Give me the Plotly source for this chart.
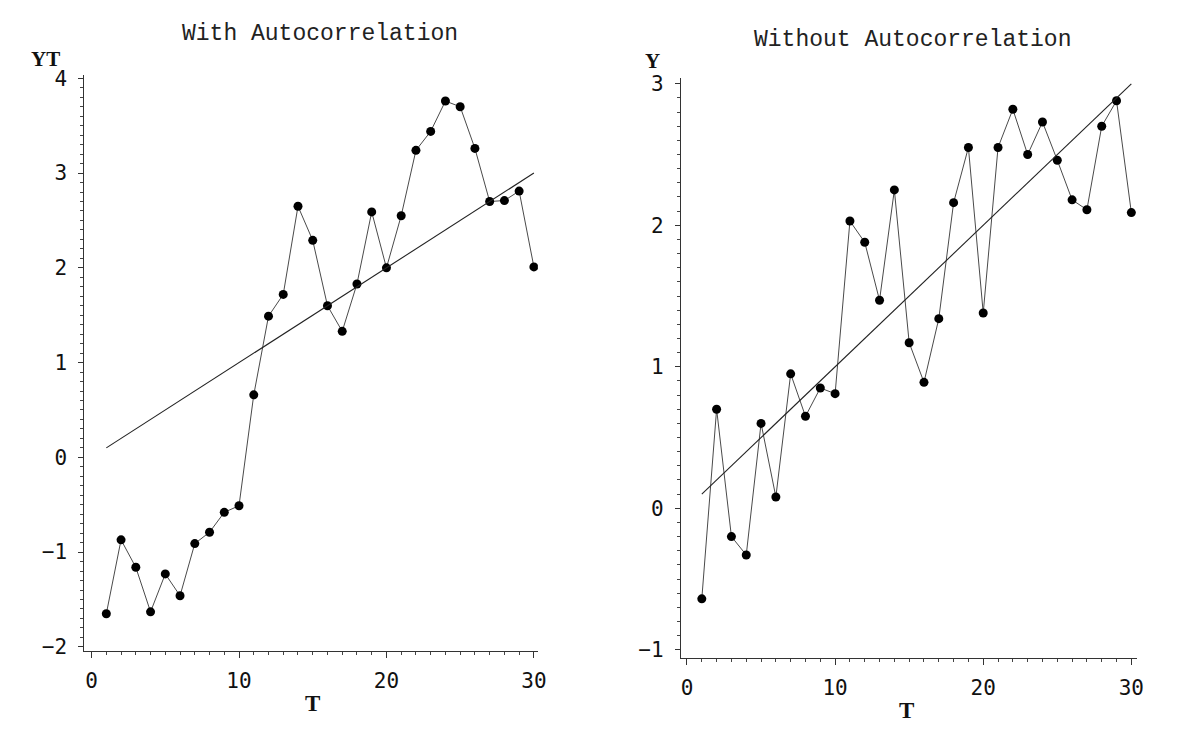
import plotly.graph_objects as go

# ---- data ----
t_vals = list(range(1, 31))

yt_with = [-1.65, -0.87, -1.16, -1.63, -1.23, -1.46, -0.91, -0.79, -0.58, -0.51,
           0.66, 1.49, 1.72, 2.65, 2.29, 1.60, 1.33, 1.83, 2.59, 2.00,
           2.55, 3.24, 3.44, 3.76, 3.70, 3.26, 2.70, 2.71, 2.81, 2.01]

y_without = [-0.64, 0.70, -0.20, -0.33, 0.60, 0.08, 0.95, 0.65, 0.85, 0.81,
             2.03, 1.88, 1.47, 2.25, 1.17, 0.89, 1.34, 2.16, 2.55, 1.38,
             2.55, 2.82, 2.50, 2.73, 2.46, 2.18, 2.11, 2.70, 2.88, 2.09]

trend_slope = 0.1
trend_intercept = 0.0
trend_t = [1, 30]
trend_y = [trend_intercept + trend_slope * t for t in trend_t]

x_ticks = [0, 10, 20, 30]
y_ticks_left = [-2, -1, 0, 1, 2, 3, 4]
y_ticks_right = [-1, 0, 1, 2, 3]

titles = ["With Autocorrelation", "Without Autocorrelation"]
y_labels = ["YT", "Y"]
x_label = "T"

W, H = 1181, 735

fig = go.Figure()

line_col = "#4a4a4a"
for yy, xa, ya in [(yt_with, "x", "y"), (y_without, "x2", "y2")]:
    fig.add_trace(go.Scatter(
        x=t_vals, y=yy, mode="lines+markers", xaxis=xa, yaxis=ya,
        line=dict(color=line_col, width=1),
        marker=dict(color="black", size=9, symbol="circle"),
        showlegend=False, hoverinfo="skip"))
    fig.add_trace(go.Scatter(
        x=trend_t, y=trend_y, mode="lines", xaxis=xa, yaxis=ya,
        line=dict(color="#222222", width=1.1),
        showlegend=False, hoverinfo="skip"))

tick_font = dict(family="DejaVu Sans Mono", size=21, color="#111")

def xax(domain, rng, anchor):
    return dict(domain=domain, range=rng, anchor=anchor,
                showline=True, linecolor="#333", linewidth=1,
                showgrid=False, zeroline=False,
                tickmode="array", tickvals=x_ticks,
                ticktext=[str(v) for v in x_ticks],
                ticks="outside", ticklen=6, tickwidth=1, tickcolor="#333",
                minor=dict(dtick=1, ticks="outside", ticklen=3, tickcolor="#444", tickwidth=1),
                tickfont=tick_font, ticklabelstandoff=5)

def yax(domain, rng, anchor, vals):
    return dict(domain=domain, range=rng, anchor=anchor,
                showline=True, linecolor="#333", linewidth=1,
                showgrid=False, zeroline=False,
                tickmode="array", tickvals=vals,
                ticktext=[("\u2212" + str(-v)) if v < 0 else str(v) for v in vals],
                ticks="outside", ticklen=5, tickwidth=1, tickcolor="#333",
                minor=dict(dtick=0.1, ticks="outside", ticklen=3, tickcolor="#444", tickwidth=1),
                tickfont=tick_font, ticklabelstandoff=7)

fig.update_layout(
    width=W, height=H,
    margin=dict(l=0, r=0, t=0, b=0),
    paper_bgcolor="white", plot_bgcolor="white",
    xaxis=xax([85 / W, 542 / W], [-0.49, 30.27], "y"),
    yaxis=yax([1 - 657 / H, 1 - 68 / H], [-2.04, 4.04], "x", y_ticks_left),
    xaxis2=xax([686 / W, 1146 / W], [-0.42, 30.4], "y2"),
    yaxis2=yax([1 - 664 / H, 1 - 71.7 / H], [-1.055, 3.04], "x2", y_ticks_right),
)

title_font = dict(family="Liberation Mono", size=23, color="#222")
ylab_font = dict(family="Liberation Serif", size=21, color="#111", weight="bold")
xlab_font = dict(family="Liberation Serif", size=23, color="#111", weight="bold")

ann = [
    dict(text=titles[0], x=322 / W, y=1 - 27 / H),
    dict(text=titles[1], x=920 / W, y=1 - 33 / H),
]
for a in ann:
    fig.add_annotation(text=a["text"], x=a["x"], y=a["y"], xref="paper", yref="paper",
                       showarrow=False, font=title_font, xanchor="center", yanchor="middle")

lab = [
    (y_labels[0], 46 / W, 1 - 52 / H, ylab_font),
    (y_labels[1], 658 / W, 1 - 54 / H, ylab_font),
    (x_label, 315 / W, 1 - 711 / H, xlab_font),
    (x_label, 913 / W, 1 - 718 / H, xlab_font),
]
for txt, x, y, f in lab:
    fig.add_annotation(text=txt, x=x, y=y, xref="paper", yref="paper",
                       showarrow=False, font=f, xanchor="center", yanchor="middle")

fig.write_html("out.html")
